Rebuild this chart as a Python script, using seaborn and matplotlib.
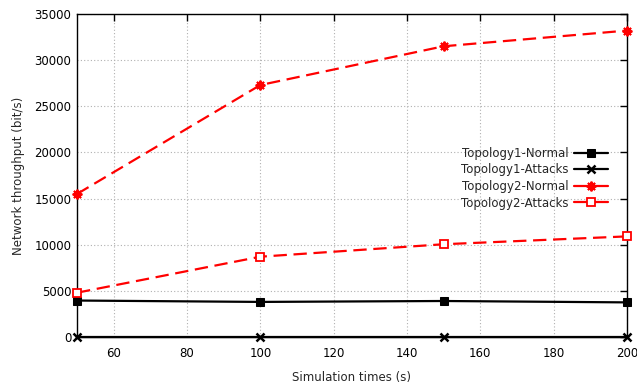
import matplotlib
matplotlib.use("Agg")
import matplotlib.pyplot as plt
import seaborn as sns
import pandas as pd

sim_times = [50, 100, 150, 200]
topo1_normal = [3950, 3800, 3900, 3750]
topo1_attacks = [0, 0, 0, 0]
topo2_normal = [15500, 27300, 31500, 33200]
topo2_attacks = [4800, 8700, 10050, 10900]

sns.set_style("white")
plt.rcParams['font.family'] = ['DejaVu Sans']

fig = plt.figure(figsize=(6.37, 3.85), dpi=100)
ax = fig.add_axes([0.121, 0.1247, 0.863, 0.839])

series = [
    ("Topology1-Normal", topo1_normal, dict(color="black", marker="s", markersize=6,
                                             markeredgecolor="black", linestyle="-")),
    ("Topology1-Attacks", topo1_attacks, dict(color="black", marker="x", markersize=6,
                                               markeredgecolor="black", markeredgewidth=1.8, linestyle="-")),
    ("Topology2-Normal", topo2_normal, dict(color="red", marker=(8, 2, 0), markersize=7,
                                             markeredgecolor="red", markeredgewidth=1.4, linestyle=(0, (6, 3)))),
    ("Topology2-Attacks", topo2_attacks, dict(color="red", marker="s", markersize=6, markerfacecolor="white",
                                               markeredgecolor="red", markeredgewidth=1.3, linestyle=(0, (6, 3)))),
]

for name, vals, kw in series:
    df = pd.DataFrame({"x": sim_times, "y": vals})
    sns.lineplot(data=df, x="x", y="y", ax=ax, label=name, linewidth=1.6,
                 clip_on=False, zorder=3, **kw)

ax.set_xlim(50, 200)
ax.set_ylim(0, 35000)
ax.set_xticks(range(60, 201, 20))
ax.set_yticks(range(0, 35001, 5000))
ax.grid(True, color="#b0b0b0", linestyle=(0, (1, 2)), linewidth=0.8)
for s in ax.spines.values():
    s.set_color("black")
    s.set_linewidth(1.0)
ax.tick_params(direction="in", length=5, width=1, top=True, right=True,
               labelsize=8.5, colors="black", pad=4)
ax.tick_params(axis="x", pad=7)
ax.set_xlabel("Simulation times (s)", fontsize=8.5, labelpad=8)
ax.set_ylabel("Network throughput (bit/s)", fontsize=8.5, labelpad=7)

leg = ax.legend(loc="upper right", bbox_to_anchor=(0.975, 0.603), frameon=False,
                markerfirst=False, fontsize=8.5, handlelength=2.9,
                labelspacing=0.3, borderaxespad=0, handletextpad=0.5)
for line in leg.get_lines():
    line.set_linestyle("-")

fig.savefig("out.png", dpi=100)
